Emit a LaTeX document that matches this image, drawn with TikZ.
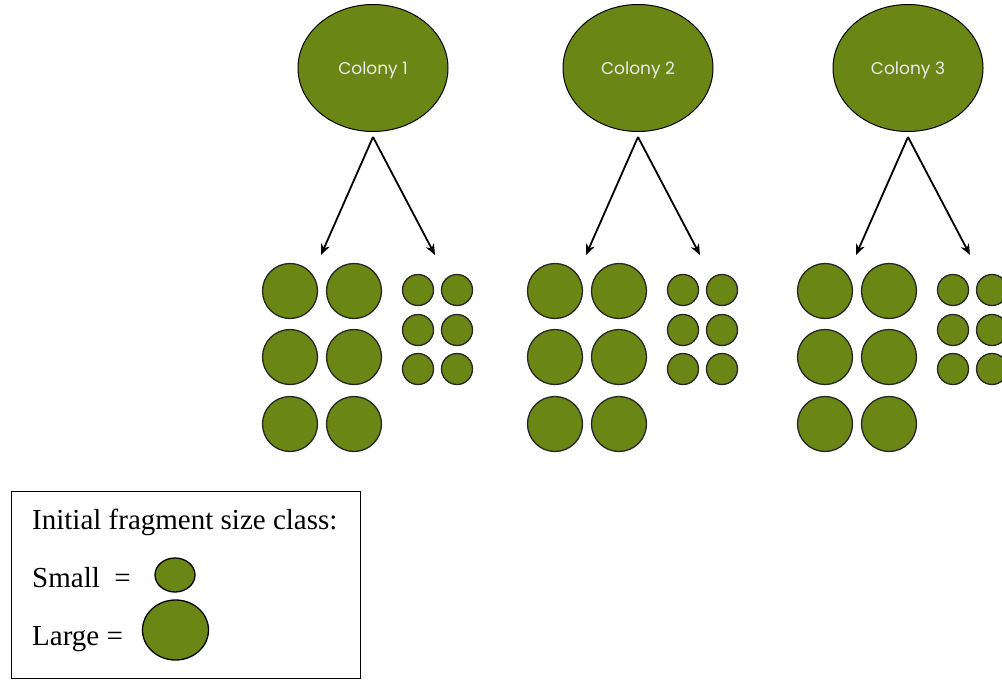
\documentclass[tikz,border=0pt]{standalone}
\usepackage{fontspec}
\setmainfont{Liberation Serif}
\newfontfamily\gothicfont{Poppins}
\usepackage{xcolor}
\usetikzlibrary{shapes.geometric, arrows, arrows.meta, positioning}
\definecolor{moss}{RGB}{106,135,22}
\tikzstyle{colony} = [ellipse, draw=black, line width=1pt, fill=moss, minimum width=150pt, minimum height=127pt, inner sep=0pt, text=white!92!black, font=\gothicfont\fontsize{17}{20}\selectfont]
\tikzstyle{large}  = [circle, draw=black!85, line width=1.3pt, fill=moss, minimum size=55pt, inner sep=0pt]
\tikzstyle{small}  = [circle, draw=black!85, line width=1.3pt, fill=moss, minimum size=31pt, inner sep=0pt]
\tikzstyle{blob}   = [ellipse, draw=black, line width=1.3pt, fill=moss, inner sep=0pt]
\tikzstyle{arrow}  = [line width=1.8pt, ->, >={Stealth[length=11pt, width=9pt]}]
\tikzstyle{legtext} = [anchor=base west, inner sep=0pt, font=\fontsize{29}{34}\selectfont]

\begin{document}
\begin{tikzpicture}[x=1pt, y=-1pt]
    \useasboundingbox (0,0) rectangle (1002,680);

    \foreach \c/\dx in {1/0, 2/265, 3/535} {
        \node[colony] (col\c) at ({373+\dx},68) {\rule{0pt}{18pt}Colony \c};
        \coordinate (tipL\c) at ({321+\dx},255);
        \coordinate (tipS\c) at ({435+\dx},255);
        \draw [arrow] ([yshift=-5pt]col\c.south) -- (tipL\c);
        \draw [arrow] ([yshift=-5pt]col\c.south) -- (tipS\c);
        % large fragments
        \foreach \r/\y in {1/291, 2/357, 3/424}
            \foreach \k/\x in {1/290, 2/354}
                \node[large] (L\c-\r\k) at ({\x+\dx},\y) {};
        % small fragments
        \foreach \r/\y in {1/290, 2/330, 3/369}
            \foreach \k/\x in {1/418, 2/457}
                \node[small] (S\c-\r\k) at ({\x+\dx},\y) {};
    }

    % legend
    \node[draw=black, line width=1pt, minimum width=349pt, minimum height=187pt, inner sep=0pt] (legend) at (185.5,584.5) {};
    \node[legtext] (title) at (32,529) {Initial fragment size class:};
    \node[legtext] (smalltxt) at (32,587) {Small\ \ =};
    \node[legtext] (largetxt) at (32,645) {Large =};
    \node[blob, minimum width=40pt, minimum height=34pt] (smallblob) at (175,575) {};
    \node[blob, minimum width=66pt, minimum height=60pt] (largeblob) at (175.5,630) {};
\end{tikzpicture}
\end{document}
